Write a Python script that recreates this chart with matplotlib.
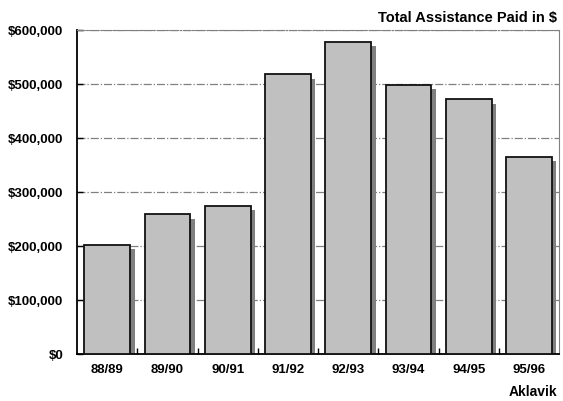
import matplotlib.pyplot as plt
import numpy as np
from matplotlib.ticker import FuncFormatter

plt.rcParams['font.family'] = ['Liberation Sans', 'DejaVu Sans']

years = ['88/89', '89/90', '90/91', '91/92', '92/93', '93/94', '94/95', '95/96']
paid = [202000, 259000, 274000, 518000, 578000, 498000, 472000, 365000]

fig = plt.figure(figsize=(5.63, 4.01), dpi=100)
ax = fig.add_axes([0.137, 0.117, 0.856, 0.808])

x = np.arange(len(years))
width = 0.76

# drop shadow behind each bar, offset right and down
ax.bar(x + 0.075, np.array(paid) - 8000, width=width, color='#808080', zorder=2)
ax.bar(x, paid, width=width, color='#c0c0c0', edgecolor='#111111', linewidth=1.3, zorder=3)

ax.set_xlim(-0.5, len(years) - 0.5)
ax.set_ylim(0, 600000)
ax.set_yticks(np.arange(0, 600001, 100000))
ax.yaxis.set_major_formatter(FuncFormatter(lambda v, p: f'${int(v):,}'))
ax.set_xticks(x)
ax.set_xticklabels(years)
ax.set_xticks(np.arange(0.5, len(years) - 0.5), minor=True)
ax.tick_params(axis='x', which='major', length=0, labelsize=9.5, pad=7)
ax.tick_params(axis='x', which='minor', length=4, direction='in', width=1)
ax.tick_params(axis='y', length=4, direction='in', width=1, labelsize=9.5, pad=10)
for lbl in ax.get_xticklabels() + ax.get_yticklabels():
    lbl.set_fontweight('bold')

ax.yaxis.grid(True, color='#808080', linestyle='-.', linewidth=0.9, zorder=1)
ax.set_axisbelow(True)

ax.spines['left'].set_linewidth(1.3)
ax.spines['bottom'].set_linewidth(1.3)
ax.spines['top'].set_color('#808080')
ax.spines['top'].set_linestyle('-.')
ax.spines['right'].set_color('#808080')

fig.text(0.99, 0.955, 'Total Assistance Paid in $', ha='right', va='center',
         fontsize=10.5, fontweight='bold')
fig.text(0.99, 0.022, 'Aklavik', ha='right', va='center',
         fontsize=10, fontweight='bold')

fig.savefig('out.png', dpi=100)
